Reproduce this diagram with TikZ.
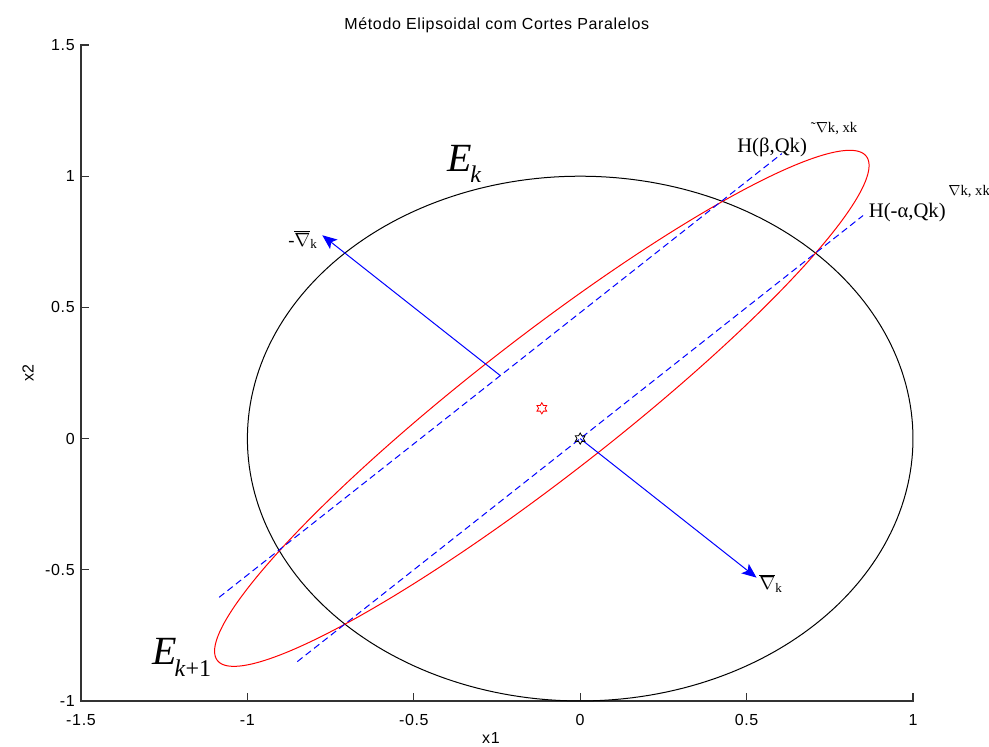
\documentclass[tikz,border=0pt]{standalone}
\usepackage{fontspec}
\setmainfont{Liberation Serif}
\setsansfont{Liberation Sans}
\usetikzlibrary{arrows.meta}
\begin{document}
\begin{tikzpicture}[x=249.6pt, y=196.8pt,
  axisline/.style={line width=0.9pt, draw=black!80, line cap=rect},
  tickmark/.style={line width=0.9pt, draw=black!80},
  sanslabel/.style={font=\sffamily\fontsize{12}{14}\selectfont\addfontfeature{LetterSpace=4}, inner sep=0pt},
  cutline/.style={blue, line width=0.75pt, dash pattern=on 5pt off 3pt},
  gradarrow/.style={blue, line width=0.75pt, -{Stealth[length=11pt,width=9pt,inset=2.5pt]}},
  seriflabel/.style={inner sep=0pt, anchor=base west},
  curve/.style={line width=0.75pt},
  hexa/.pic={\draw[line width=0.6pt] (90:4.2pt) -- (120:2.42pt) -- (150:4.2pt) -- (180:2.42pt)
     -- (210:4.2pt) -- (240:2.42pt) -- (270:4.2pt) -- (300:2.42pt) -- (330:4.2pt)
     -- (0:2.42pt) -- (30:4.2pt) -- (60:2.42pt) -- cycle;}
]
\useasboundingbox (-1.7434,-1.1753) rectangle (1.2284,1.6715);

% axes
\coordinate (O) at (-1.5,-1);
\coordinate (YT) at (-1.5,1.5);
\coordinate (XR) at (1,-1);
\draw[axisline] (YT) -- (O) -- (XR);
\foreach \t [count=\i] in {-1.5,-1,-0.5,0,0.5,1} {
  \draw[tickmark] (\t,-1) -- ++(0,0.0305);
  \node[sanslabel] (xt\i) at (\t,-1.0724) {\t};
}
\foreach \t [count=\i] in {-1,-0.5,0,0.5,1,1.5} {
  \draw[tickmark] (-1.5,\t) -- ++(0.024,0);
  \node[sanslabel, anchor=east] (yt\i) at (-1.518,\t) {\t};
}
\node[sanslabel] (title) at (-0.2506,1.5762) {Método Elipsoidal com Cortes Paralelos};
\node[sanslabel] (xlab) at (-0.268,-1.141) {x1};
\node[sanslabel, rotate=90] (ylab) at (-1.6593,0.25) {x2};

% unit circle E_k
\draw[curve, black] plot[domain=0:360, samples=241] ({cos(\x)},{sin(\x)});

% new ellipse E_{k+1}
\draw[curve, red] plot[domain=0:360, samples=241]
  ({-0.1153+(1.37*cos(\x)+0.239*sin(\x))*0.7071},{0.1153+(1.37*cos(\x)-0.239*sin(\x))*0.7071});

% cut lines
\coordinate (hb1) at (-1.085,-0.605);
\coordinate (hb2) at (0.606,1.086);
\coordinate (ha1) at (-0.85,-0.85);
\coordinate (ha2) at (0.85,0.85);
\draw[cutline] (hb1) -- (hb2);
\draw[cutline] (ha1) -- (ha2);

% gradient arrows
\coordinate (g0) at (0,0);
\coordinate (g1) at (0.53,-0.53);
\coordinate (m0) at (-0.24,0.24);
\coordinate (m1) at (-0.775,0.775);
\draw[gradarrow] (g0) -- (g1);
\draw[gradarrow] (m0) -- (m1);

% centres
\pic[red] at (-0.1153,0.1153) {hexa};
\pic[black] at (g0) {hexa};

% labels
\node[seriflabel, font=\fontsize{30}{36}\selectfont] (Ek) at (-0.4002,1.016)
  {\textit{E}\kern-1pt\raisebox{-8pt}{\fontsize{18}{20}\selectfont\textit{k}}};
\node[seriflabel, font=\fontsize{30}{36}\selectfont] (Ek1) at (-1.2867,-0.8628)
  {\textit{E}\kern-1.5pt\raisebox{-8.5pt}{\fontsize{18}{20}\selectfont\textit{k}+1}};
\node[seriflabel, font=\fontsize{14}{16}\selectfont] (mgl) at (-0.878,0.7337)
  {-$\overline{\nabla}$\textsubscript{k}};
\node[seriflabel, font=\fontsize{14}{16}\selectfont] (gl) at (0.5373,-0.577)
  {$\overline{\nabla}$\textsubscript{k}};
\node[seriflabel, font=\fontsize{15.5}{18}\selectfont] (hbl) at (0.4712,1.0918)
  {H(β,Qk)\kern3pt\raisebox{14.5pt}{\fontsize{11}{13}\selectfont ˜$\nabla$k, xk}};
\node[seriflabel, font=\fontsize{15.5}{18}\selectfont] (hal) at (0.8666,0.8407)
  {H(-α,Qk)\kern2pt\raisebox{17pt}{\fontsize{11}{13}\selectfont $\nabla$k, xk}};
\end{tikzpicture}
\end{document}
